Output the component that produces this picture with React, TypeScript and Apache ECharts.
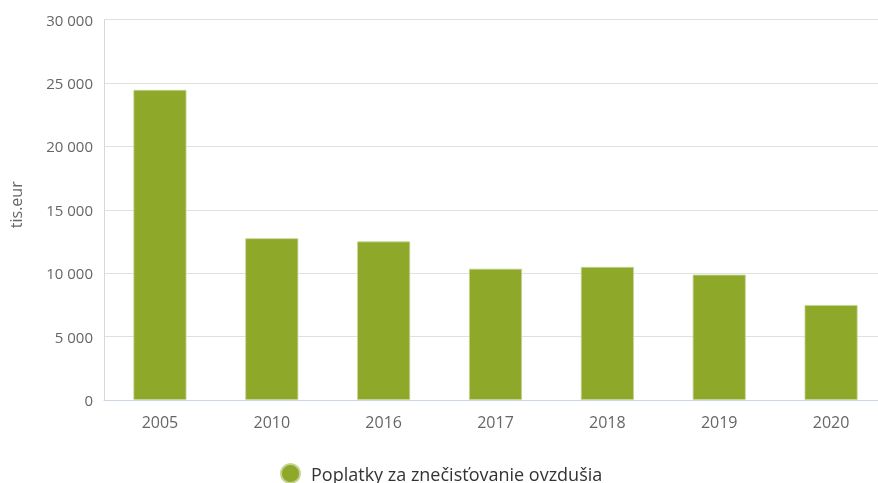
import React, { useEffect, useRef } from "react";
import * as echarts from "echarts";

const categories = ["2005", "2010", "2016", "2017", "2018", "2019", "2020"];
const values = [24450, 12750, 12500, 10350, 10490, 9880, 7490];
const seriesName = "Poplatky za znečisťovanie ovzdušia";
const axisName = "tis.eur";

export default function App() {
  const ref = useRef<HTMLDivElement>(null);
  useEffect(() => {
    const chart = echarts.init(ref.current!, null, { renderer: "svg" });
    chart.setOption({
      animation: false,
      textStyle: { fontFamily: "Open Sans" },
      grid: { left: 103, right: 0, top: 19.5, bottom: 83, containLabel: false },
      legend: {
        top: 463,
        left: 280,
        icon: "circle",
        itemWidth: 19,
        itemHeight: 19,
        padding: 0,
        textStyle: { fontSize: 18, color: "#333", fontFamily: "Open Sans", padding: [0, 0, 0, 6] },
        data: [seriesName],
      },
      xAxis: {
        type: "category",
        data: categories,
        axisLine: { lineStyle: { color: "#ccd6eb", width: 1 } },
        axisTick: { show: false },
        axisLabel: { fontSize: 16, color: "#666", margin: 14 },
      },
      yAxis: {
        type: "value",
        min: 0,
        max: 30000,
        interval: 5000,
        name: axisName,
        nameLocation: "middle",
        nameRotate: 90,
        nameGap: 80,
        nameTextStyle: { fontSize: 16, color: "#666", padding: [0, 0, 0, 10] },
        axisLine: { show: true, lineStyle: { color: "#d8d8d8" } },
        splitLine: { lineStyle: { color: "#e0e0e0", width: 1 } },
        axisLabel: {
          fontSize: 15,
          color: "#666",
          margin: 11,
          formatter: (v: number) => v.toLocaleString("en-US").replace(/,/g, " "),
        },
      },
      series: [
        {
          name: seriesName,
          type: "bar",
          data: values,
          barWidth: 53,
          itemStyle: { color: "#8ea82a", borderColor: "#c5d494", borderWidth: 0.8 },
        },
      ],
    });
    return () => chart.dispose();
  }, []);
  return (
    <div
      ref={ref}
      style={{ position: "fixed", left: 0, top: 0, width: 887, height: 483 }}
    />
  );
}
